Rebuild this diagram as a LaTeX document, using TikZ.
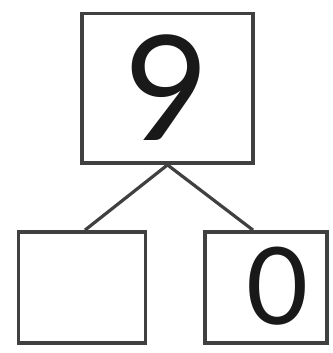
\documentclass[tikz,border=0pt]{standalone}
\usepackage{fontspec}
\setmainfont{Lato}
\begin{document}
\begin{tikzpicture}[x=1pt,y=1pt,
  box/.style={draw=boxgray, line width=3.8pt, rectangle, inner sep=0pt},
  link/.style={draw=boxgray, line width=3.2pt},
  digit/.style={inner sep=0pt, text=black!90}]
\definecolor{boxgray}{HTML}{404040}
\useasboundingbox (0,0) rectangle (332,-353);
\node[box, minimum width=171pt, minimum height=149.5pt] (top) at (167.5,-88.25) {};
\node[box, minimum width=127pt, minimum height=111pt] (left) at (82,-287.5) {};
\node[box, minimum width=122pt, minimum height=111pt] (right) at (266,-287.5) {};
\node[digit, font=\fontsize{146}{150}\selectfont] (nine) at (167,-87.5) {9};
\node[digit, font=\fontsize{107}{110}\selectfont] (zero) at (277.5,-286.5) {0};
\coordinate (lend) at ([xshift=3pt]left.north);
\coordinate (rend) at ([xshift=-13pt]right.north);
\draw[link] (top.south) -- (lend);
\draw[link] (top.south) -- (rend);
\end{tikzpicture}
\end{document}
